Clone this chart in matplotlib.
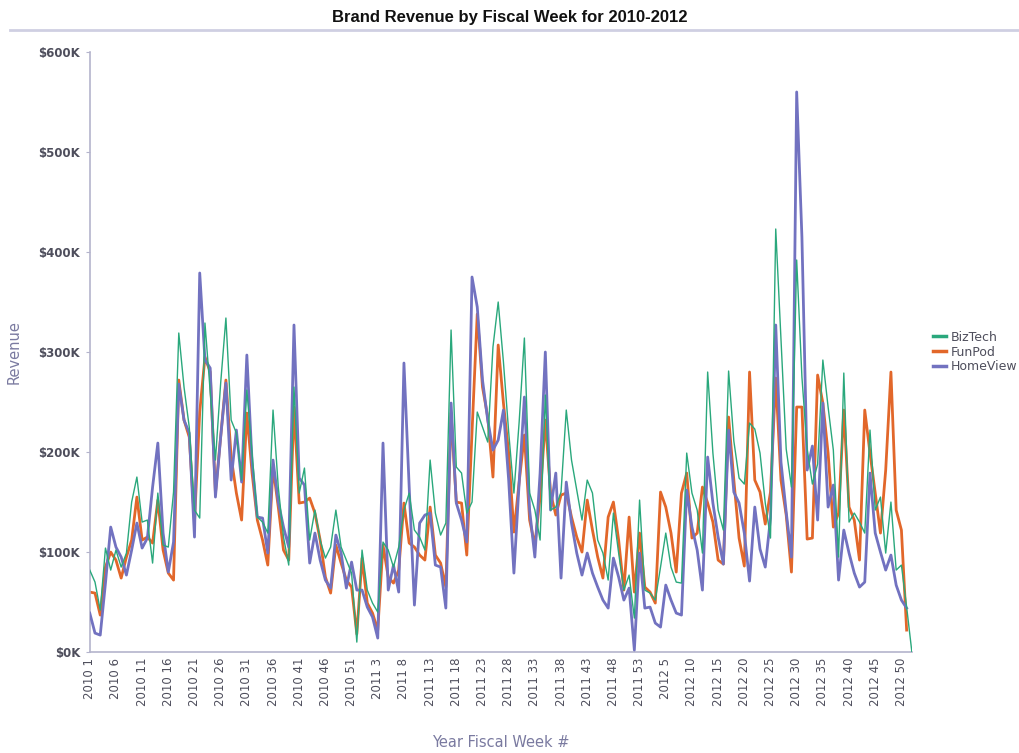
import numpy as np
import matplotlib.pyplot as plt
from matplotlib.ticker import FuncFormatter

# fiscal weeks per year
years = [2010, 2011, 2012]
weeks_per_year = [53, 53, 52]

# weekly revenue in $K
biztech = [
    82, 70, 42, 104, 82, 102, 85, 99, 150, 175, 130, 132, 89, 159, 107, 105, 160, 319, 265, 225,
    142, 134, 329, 260, 192, 269, 334, 232, 219, 172, 262, 199, 135, 130, 119, 242, 165, 115, 87, 265,
    159, 184, 112, 142, 112, 94, 105, 142, 105, 92, 79, 10, 102, 62, 49, 40, 110, 102, 85, 105,
    142, 159, 122, 115, 102, 192, 139, 117, 129, 322, 185, 179, 139, 150, 240, 225, 210, 305, 350, 290,
    220, 159, 230, 314, 159, 142, 112, 257, 142, 145, 160, 242, 192, 162, 132, 172, 159, 112, 99, 72,
    139, 99, 62, 77, 34, 152, 62, 59, 52, 85, 119, 85, 70, 69, 199, 159, 142, 99, 280, 199,
    142, 122, 281, 211, 174, 168, 229, 223, 199, 149, 114, 423, 314, 203, 165, 392, 275, 203, 168, 188,
    292, 245, 202, 95, 279, 130, 139, 130, 119, 222, 142, 155, 99, 150, 82, 87, 45, 0,
]
funpod = [
    60, 59, 37, 85, 100, 92, 74, 95, 112, 155, 112, 115, 109, 152, 102, 79, 72, 272, 232, 215,
    130, 240, 295, 280, 159, 215, 272, 195, 159, 132, 239, 179, 132, 112, 87, 185, 145, 102, 92, 245,
    149, 150, 154, 139, 112, 75, 59, 107, 89, 72, 65, 18, 94, 49, 39, 22, 107, 75, 69, 82,
    149, 109, 105, 97, 92, 145, 97, 89, 65, 239, 150, 149, 97, 220, 338, 265, 235, 175, 307, 249,
    199, 120, 170, 217, 132, 107, 155, 232, 159, 137, 157, 159, 135, 115, 100, 152, 122, 95, 74, 135,
    150, 112, 62, 135, 60, 119, 65, 60, 49, 160, 145, 119, 80, 159, 179, 114, 119, 165, 149, 130,
    92, 88, 235, 172, 114, 86, 280, 172, 160, 128, 160, 274, 172, 137, 80, 245, 245, 113, 114, 277,
    249, 199, 125, 139, 242, 145, 132, 92, 242, 199, 159, 119, 182, 280, 142, 122, 22, np.nan,
]
homeview = [
    39, 19, 17, 69, 125, 105, 95, 77, 102, 129, 104, 114, 165, 209, 119, 80, 110, 268, 232, 219,
    115, 379, 292, 284, 155, 215, 269, 172, 222, 170, 297, 190, 135, 134, 99, 192, 150, 125, 105, 327,
    174, 167, 89, 119, 92, 72, 64, 117, 99, 64, 90, 62, 62, 45, 35, 14, 209, 62, 87, 60,
    289, 165, 47, 129, 137, 139, 87, 85, 44, 249, 149, 132, 110, 375, 345, 272, 232, 202, 212, 242,
    172, 79, 169, 255, 142, 95, 179, 300, 142, 179, 74, 170, 129, 99, 77, 99, 79, 65, 52, 44,
    94, 75, 52, 64, 2, 99, 44, 45, 29, 25, 67, 52, 39, 37, 162, 125, 102, 62, 195, 149,
    115, 88, 222, 160, 149, 119, 71, 145, 103, 85, 134, 327, 190, 140, 95, 560, 415, 182, 206, 132,
    249, 145, 167, 72, 122, 99, 79, 65, 70, 179, 119, 100, 82, 97, 67, 52, 44, np.nan,
]

labels = [f"{y} {w}" for y, n in zip(years, weeks_per_year) for w in range(1, n + 1)]
x = np.arange(len(labels))

AXIS_COLOR = "#b4b4cc"
TEXT_COLOR = "#4e4e5c"
TITLE_COLOR = "#7a7aa0"

fig = plt.figure(figsize=(10.2, 7.53), dpi=100)
ax = fig.add_axes([0.088, 0.134, 0.806, 0.797])

ax.plot(x, np.array(funpod) * 1000, color="#e2672a", linewidth=2.0, label="FunPod", zorder=2)
ax.plot(x, np.array(homeview) * 1000, color="#7272c0", linewidth=2.0, label="HomeView", zorder=3)
ax.plot(x, np.array(biztech) * 1000, color="#2aa87c", linewidth=1.0, label="BizTech", zorder=4)

ax.set_xlim(0, len(labels) - 1)
ax.set_ylim(0, 600000)
ax.set_yticks(np.arange(0, 600001, 100000))
ax.yaxis.set_major_formatter(FuncFormatter(lambda v, p: f"${v / 1000:.0f}K"))

ax.set_xticks(x[::5])
ax.set_xticklabels(labels[::5], rotation=90, fontsize=8.5, color=TEXT_COLOR)
ax.tick_params(axis="x", length=0, pad=4)
ax.tick_params(axis="y", length=3, color=AXIS_COLOR, labelsize=8.5, labelcolor=TEXT_COLOR, pad=4)
for t in ax.get_yticklabels():
    t.set_fontweight("bold")

for side in ["top", "right"]:
    ax.spines[side].set_visible(False)
for side in ["left", "bottom"]:
    ax.spines[side].set_color(AXIS_COLOR)
    ax.spines[side].set_linewidth(1.2)

ax.set_ylabel("Revenue", color=TITLE_COLOR, fontsize=10.5)
ax.yaxis.set_label_coords(-0.083, 0.5)
ax.set_xlabel("Year Fiscal Week #", color=TITLE_COLOR, fontsize=10.5)
ax.xaxis.set_label_coords(0.5, -0.138)

# reorder legend entries to BizTech, FunPod, HomeView
handles, names = ax.get_legend_handles_labels()
order = [names.index(n) for n in ["BizTech", "FunPod", "HomeView"]]
leg = ax.legend([handles[i] for i in order], [names[i] for i in order],
                loc="center left", bbox_to_anchor=(1.02, 0.5), frameon=False,
                fontsize=9, handlelength=1.0, handletextpad=0.4, labelspacing=0.15,
                borderaxespad=0)
for line in leg.get_lines():
    line.set_linewidth(2.5)
for t in leg.get_texts():
    t.set_color(TEXT_COLOR)

fig.text(0.5, 0.977, "Brand Revenue by Fiscal Week for 2010-2012",
         ha="center", va="center", fontsize=12, fontweight="bold",
         family=["Liberation Sans Narrow", "DejaVu Sans Condensed", "Liberation Sans"],
         color="#111111")
fig.add_artist(plt.Line2D([0.01, 1.0], [0.96, 0.96], color="#cfcfe2", linewidth=2))

fig.savefig("out.png", dpi=100)
